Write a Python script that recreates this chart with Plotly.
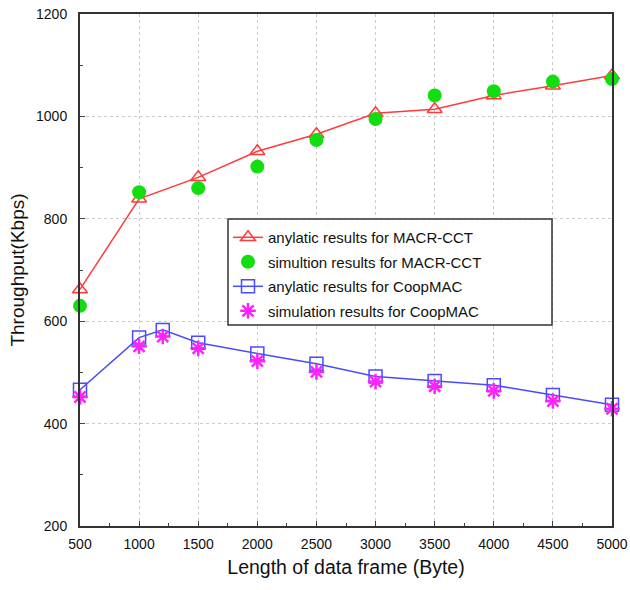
import plotly.graph_objects as go

x_macr = [500, 1000, 1500, 2000, 2500, 3000, 3500, 4000, 4500, 5000]
macr_analytic = [662, 839, 881, 932, 965, 1006, 1014, 1041, 1060, 1080]
macr_sim = [630, 852, 860, 902, 954, 995, 1041, 1049, 1068, 1073]

x_coop = [500, 1000, 1200, 1500, 2000, 2500, 3000, 3500, 4000, 4500, 5000]
coop_analytic = [466, 568, 583, 558, 537, 517, 492, 483, 475, 456, 437]
coop_sim = [452, 551, 570, 547, 522, 501, 482, 473, 464, 444, 429]

names = ["anylatic results for MACR-CCT", "simultion results for MACR-CCT",
         "anylatic results for CoopMAC", "simulation results for CoopMAC"]

FONT = "Liberation Sans, Arial"

fig = go.Figure()
fig.add_trace(go.Scatter(x=x_macr, y=macr_analytic, mode="lines+markers", name=names[0],
                         legendgroup="a", cliponaxis=False,
                         line=dict(color="#ff3b3b", width=1.5),
                         marker=dict(symbol="triangle-up-open", size=13, color="#ff3b3b", line=dict(width=1.5))))
fig.add_trace(go.Scatter(x=x_macr, y=macr_sim, mode="markers", name=names[1],
                         legendgroup="b", cliponaxis=False,
                         marker=dict(symbol="circle", size=14, color="#11dd11")))
fig.add_trace(go.Scatter(x=x_coop, y=coop_analytic, mode="lines+markers", name=names[2],
                         legendgroup="c", cliponaxis=False,
                         line=dict(color="#4a4aff", width=1.5),
                         marker=dict(symbol="square-open", size=13, color="#4a4aff", line=dict(width=1.5))))
fig.add_trace(go.Scatter(x=x_coop, y=coop_sim, mode="markers", name=names[3],
                         legendgroup="d", cliponaxis=False,
                         marker=dict(symbol="asterisk-open", size=13, color="#ff22ff", line=dict(width=2.5, color="#ff22ff"))))

axis_common = dict(showline=True, linecolor="#333", linewidth=2, mirror=True,
                   ticks="inside", ticklen=5, tickcolor="#444",
                   showgrid=True, gridcolor="#cccccc", griddash="dot", gridwidth=1,
                   zeroline=False, tickfont=dict(family=FONT, size=14, color="#111"))

fig.update_xaxes(range=[500, 5000], tickvals=[500, 1000, 1500, 2000, 2500, 3000, 3500, 4000, 4500, 5000],
                 minor=dict(ticks="inside", dtick=250, tick0=500, ticklen=3, tickcolor="#444", showgrid=False),
                 ticklabelstandoff=4,
                 title=dict(text="Length of data frame (Byte)", font=dict(family=FONT, size=19.5, color="#111"), standoff=10),
                 **axis_common)
fig.update_yaxes(range=[200, 1200], tickvals=[200, 400, 600, 800, 1000, 1200],
                 minor=dict(ticks="inside", dtick=100, tick0=200, ticklen=3, tickcolor="#444", showgrid=False),
                 ticklabelstandoff=8,
                 title=dict(text="Throughput(Kbps)", font=dict(family=FONT, size=19, color="#111"), standoff=6),
                 **axis_common)

# legend frame (pixel box converted to paper coords)
pw, ph = 532, 512
lx0, lx1 = (228 - 80) / pw, (552 - 80) / pw
ly1, ly0 = (526 - 219) / ph, (526 - 325) / ph

fig.update_layout(width=630, height=590, margin=dict(l=80, r=18, t=14, b=64, autoexpand=False),
                  plot_bgcolor="white", paper_bgcolor="white",
                  shapes=[dict(type="rect", xref="paper", yref="paper", x0=lx0, x1=lx1, y0=ly0, y1=ly1,
                               line=dict(color="#333", width=1.5), fillcolor="white", layer="above")],
                  legend=dict(x=lx0, y=ly1 - 0.004, xanchor="left", yanchor="top",
                              borderwidth=0, bgcolor="rgba(0,0,0,0)",
                              font=dict(family=FONT, size=15, color="#111"),
                              tracegroupgap=2, itemwidth=30))

fig.write_html("out.html")
